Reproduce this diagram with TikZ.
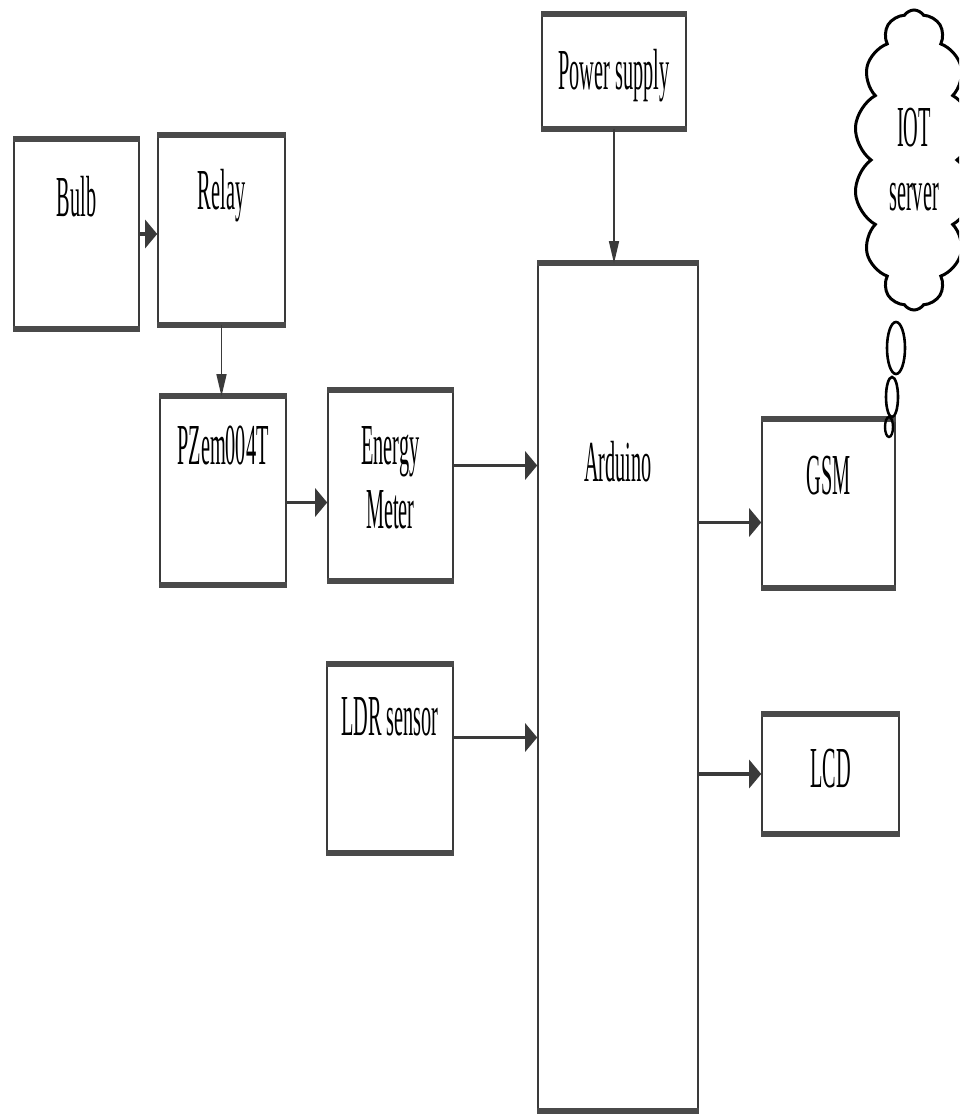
\documentclass[tikz,border=0pt]{standalone}
\usepackage{fontspec}
\setmainfont{Liberation Serif}[FakeStretch=0.35]
\usepackage{tikz}
\usetikzlibrary{shapes.symbols, arrows.meta, positioning, calc}
\definecolor{edgecolor}{HTML}{3A3A3A}
\definecolor{rimcolor}{HTML}{4A4A4A}

\tikzset{
    blk/.style={draw=edgecolor, line width=1.6pt, fill=white, inner sep=0pt},
    rim/.style={rimcolor, line width=6pt},
    ttl/.style={anchor=north, inner sep=0pt, align=center},
    harr/.style={edgecolor, line width=3.5pt, -{Triangle[length=12pt, width=28pt]}},
    varr/.style={edgecolor, line width=1.5pt, -{Triangle[length=22pt, width=10pt]}},
}

\begin{document}
\begin{tikzpicture}[x=1pt, y=-1pt, font=\fontsize{58}{64}\selectfont]
    \useasboundingbox (0,0) rectangle (959,1118);
    \clip (0,0) rectangle (959,1118);

    % Input side
    \node[blk, minimum width=125pt, minimum height=188pt,
          label={[ttl, yshift=-37pt]north:Bulb}] (bulb) at (76.5,234) {};
    \node[blk, minimum width=127pt, minimum height=188pt,
          label={[ttl, yshift=-34pt]north:Relay}] (relay) at (221.5,230) {};
    \node[blk, minimum width=126pt, minimum height=187pt,
          label={[ttl, yshift=-30pt]north:PZem004T}] (pzem) at (223,490.5) {};
    \node[blk, minimum width=125pt, minimum height=189pt,
          label={[ttl, yshift=-36pt]north:Energy\\Meter}] (energy) at (390.5,485.5) {};
    \node[blk, minimum width=126pt, minimum height=187pt,
          label={[ttl, yshift=-33pt]north:LDR sensor}] (ldr) at (390,758.5) {};

    % Controller
    \node[blk, minimum width=144pt, minimum height=113pt,
          label={[ttl, yshift=-35pt]north:Power supply}] (power) at (614,71.5) {};
    \node[blk, minimum width=160pt, minimum height=846pt,
          label={[ttl, yshift=-178pt]north:Arduino}] (arduino) at (618,687) {};

    % Output side
    \node[blk, minimum width=133pt, minimum height=167pt,
          label={[ttl, yshift=-37pt]north:GSM}] (gsm) at (828.5,503.5) {};
    \node[blk, minimum width=137pt, minimum height=118pt,
          label={[ttl, yshift=-35pt]north:LCD}] (lcd) at (830.5,774) {};

    % Thick top and bottom rims
    \foreach \n in {bulb, relay, pzem, energy, ldr, power, arduino, gsm, lcd}
        \draw[rim] (\n.north west) -- (\n.north east) (\n.south west) -- (\n.south east);

    % Cloud
    \node[cloud, draw=black, line width=3pt, cloud puffs=14, cloud puff arc=115,
          cloud ignores aspect, minimum width=120pt, minimum height=300pt,
          align=center, inner sep=0pt] (iot) at (914,160) {IOT\\server};
    \draw[line width=2.6pt] (896,348) ellipse (9pt and 26pt);
    \draw[line width=2.6pt] (892,397) ellipse (6pt and 20pt);
    \draw[line width=2.4pt] (889,427) ellipse (4pt and 10pt);

    % Connections
    \coordinate (gsmin) at ($(gsm.west)+(0,19)$);
    \draw[harr] (bulb.east) -- (bulb.east -| relay.west);
    \draw[varr] (relay.south) -- (relay.south |- pzem.north);
    \draw[harr] ([yshift=-12pt]pzem.east) -- ([yshift=-12pt]pzem.east -| energy.west);
    \draw[harr] ([yshift=20pt]energy.east) -- ([yshift=20pt]energy.east -| arduino.west);
    \draw[harr] ([yshift=21pt]ldr.east) -- ([yshift=21pt]ldr.east -| arduino.west);
    \draw[varr] (power.south) -- (power.south |- arduino.north);
    \draw[harr] (gsmin -| arduino.east) -- (gsmin);
    \draw[harr] (lcd.west -| arduino.east) -- (lcd.west);
\end{tikzpicture}
\end{document}
